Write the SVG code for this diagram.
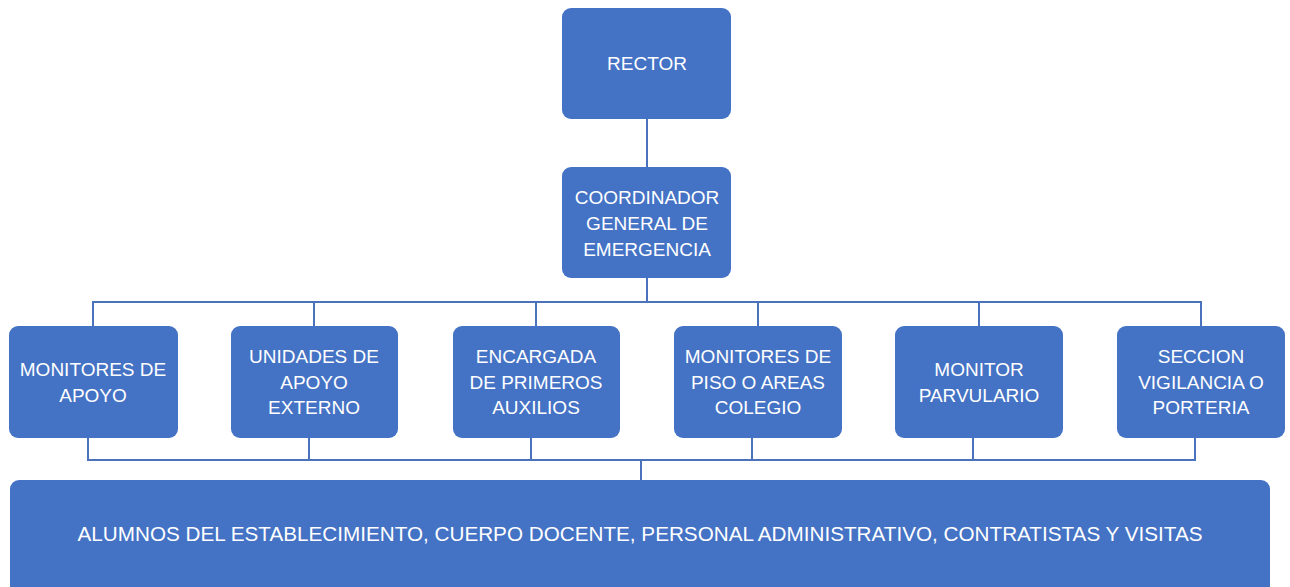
<svg xmlns="http://www.w3.org/2000/svg" width="1290" height="587" viewBox="0 0 1290 587">
<style>
.box{fill:#4472C4;}
.t{fill:#FFFFFF;font-family:"Liberation Sans",Arial,sans-serif;font-size:19px;text-anchor:middle;}
.big{font-size:21px;}
.ln{stroke:#4A72BD;stroke-width:2;fill:none;}
</style>
<rect width="1290" height="587" fill="#FFFFFF"/>
<g id="connectors">
<line class="ln" x1="647" y1="119" x2="647" y2="167"/>
<line class="ln" x1="647" y1="278" x2="647" y2="302"/>
<polyline class="ln" points="93,326 93,302 1201,302 1201,326"/>
<line class="ln" x1="314" y1="302" x2="314" y2="326"/>
<line class="ln" x1="536" y1="302" x2="536" y2="326"/>
<line class="ln" x1="758" y1="302" x2="758" y2="326"/>
<line class="ln" x1="979" y1="302" x2="979" y2="326"/>
<polyline class="ln" points="88,438 88,460 1195,460 1195,438"/>
<line class="ln" x1="309" y1="438" x2="309" y2="460"/>
<line class="ln" x1="531" y1="438" x2="531" y2="460"/>
<line class="ln" x1="752" y1="438" x2="752" y2="460"/>
<line class="ln" x1="973" y1="438" x2="973" y2="460"/>
<line class="ln" x1="641" y1="460" x2="641" y2="480"/>
</g>
<g id="rector">
<rect class="box" x="562" y="8" width="169" height="111" rx="9"/>
<text class="t" x="647" y="70">RECTOR</text>
</g>
<g id="coordinador">
<rect class="box" x="562" y="167" width="169" height="111" rx="9"/>
<text class="t" x="647" y="204">COORDINADOR</text>
<text class="t" x="647" y="230">GENERAL DE</text>
<text class="t" x="647" y="256">EMERGENCIA</text>
</g>
<g id="monitores-apoyo">
<rect class="box" x="9" y="326" width="169" height="112" rx="9"/>
<text class="t" x="93" y="376">MONITORES DE</text>
<text class="t" x="93" y="402">APOYO</text>
</g>
<g id="unidades-apoyo">
<rect class="box" x="231" y="326" width="167" height="112" rx="9"/>
<text class="t" x="314" y="363">UNIDADES DE</text>
<text class="t" x="314" y="389">APOYO</text>
<text class="t" x="314" y="414">EXTERNO</text>
</g>
<g id="primeros-auxilios">
<rect class="box" x="453" y="326" width="167" height="112" rx="9"/>
<text class="t" x="536" y="363">ENCARGADA</text>
<text class="t" x="536" y="389">DE PRIMEROS</text>
<text class="t" x="536" y="414">AUXILIOS</text>
</g>
<g id="monitores-piso">
<rect class="box" x="674" y="326" width="168" height="112" rx="9"/>
<text class="t" x="758" y="363">MONITORES DE</text>
<text class="t" x="758" y="389">PISO O AREAS</text>
<text class="t" x="758" y="414">COLEGIO</text>
</g>
<g id="monitor-parvulario">
<rect class="box" x="895" y="326" width="168" height="112" rx="9"/>
<text class="t" x="979" y="376">MONITOR</text>
<text class="t" x="979" y="402">PARVULARIO</text>
</g>
<g id="seccion-vigilancia">
<rect class="box" x="1117" y="326" width="168" height="112" rx="9"/>
<text class="t" x="1201" y="363">SECCION</text>
<text class="t" x="1201" y="389">VIGILANCIA O</text>
<text class="t" x="1201" y="414">PORTERIA</text>
</g>
<g id="comunidad">
<rect class="box" x="10" y="480" width="1260" height="130" rx="9"/>
<text class="t big" x="640" y="541" textLength="1125" lengthAdjust="spacingAndGlyphs">ALUMNOS DEL ESTABLECIMIENTO, CUERPO DOCENTE, PERSONAL ADMINISTRATIVO, CONTRATISTAS Y VISITAS</text>
</g>
</svg>
